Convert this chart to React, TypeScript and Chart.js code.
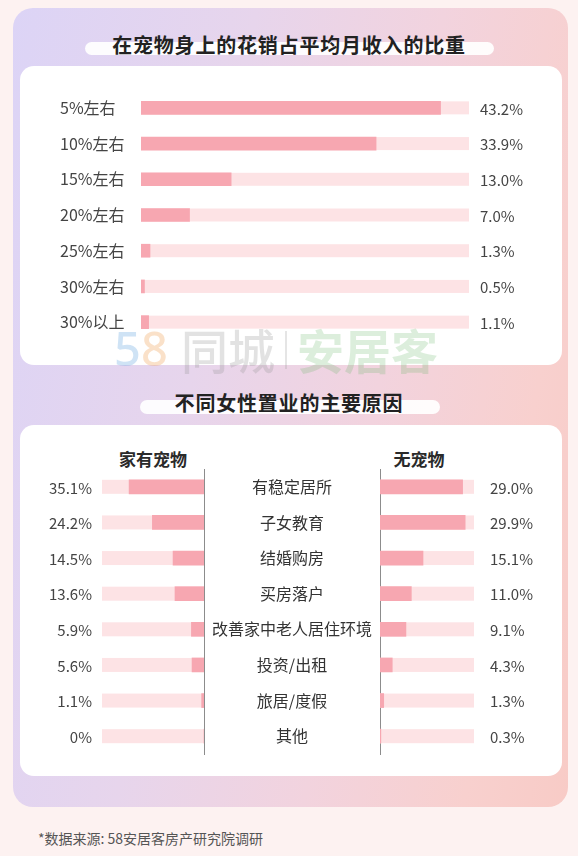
import React, { useEffect, useRef } from 'react';
import { Chart, registerables } from 'chart.js';

Chart.register(...registerables);

// ---- Data ----
const spendCategories = ['5%左右', '10%左右', '15%左右', '20%左右', '25%左右', '30%左右', '30%以上'];
const spendValues = [43.2, 33.9, 13.0, 7.0, 1.3, 0.5, 1.1];
const spendLabels = ['43.2%', '33.9%', '13.0%', '7.0%', '1.3%', '0.5%', '1.1%'];
const spendMax = 47.3;

const reasonCategories = ['有稳定居所', '子女教育', '结婚购房', '买房落户', '改善家中老人居住环境', '投资/出租', '旅居/度假', '其他'];
const withPetValues = [35.1, 24.2, 14.5, 13.6, 5.9, 5.6, 1.1, 0];
const withPetLabels = ['35.1%', '24.2%', '14.5%', '13.6%', '5.9%', '5.6%', '1.1%', '0%'];
const withPetMax = 47.8;
const noPetValues = [29.0, 29.9, 15.1, 11.0, 9.1, 4.3, 1.3, 0.3];
const noPetLabels = ['29.0%', '29.9%', '15.1%', '11.0%', '9.1%', '4.3%', '1.3%', '0.3%'];
const noPetMax = 33;

const FONT = "'Noto Sans CJK SC', 'Noto Sans', sans-serif";
const BAR = '#f7a7b1';
const TRACK = '#fde3e5';

function trackPlugin(color: string) {
  return {
    id: 'trackBg',
    beforeDatasetsDraw(chart: any) {
      const { ctx, chartArea } = chart;
      const meta = chart.getDatasetMeta(0);
      ctx.save();
      ctx.fillStyle = color;
      meta.data.forEach((el: any) => {
        const h = el.height;
        ctx.fillRect(chartArea.left, el.y - h / 2, chartArea.right - chartArea.left, h);
      });
      ctx.restore();
    },
  };
}

function valuePlugin(labels: string[], side: 'left' | 'right', gap: number, size: number, color: string) {
  return {
    id: 'valueLabels',
    afterDatasetsDraw(chart: any) {
      const { ctx, chartArea } = chart;
      const meta = chart.getDatasetMeta(0);
      ctx.save();
      ctx.font = `${size}px ${FONT}`;
      ctx.fillStyle = color;
      ctx.textBaseline = 'middle';
      ctx.textAlign = side === 'right' ? 'left' : 'right';
      const x = side === 'right' ? chartArea.right + gap : chartArea.left - gap;
      meta.data.forEach((el: any, i: number) => {
        ctx.fillText(labels[i], x, el.y + 1);
      });
      ctx.restore();
    },
  };
}

const baseOptions = {
  animation: false as const,
  responsive: false,
  maintainAspectRatio: false,
  events: [] as any[],
  indexAxis: 'y' as const,
  plugins: { legend: { display: false }, tooltip: { enabled: false }, title: { display: false } },
};

function SpendChart() {
  const ref = useRef<HTMLCanvasElement>(null);
  useEffect(() => {
    const chart = new Chart(ref.current!, {
      type: 'bar',
      data: {
        labels: spendCategories,
        datasets: [{ data: spendValues, backgroundColor: BAR, barThickness: 13, borderWidth: 0 }],
      },
      options: {
        ...baseOptions,
        layout: { padding: { left: 40, right: 93, top: 24, bottom: 25 } },
        scales: {
          x: { display: false, min: 0, max: spendMax },
          y: {
            position: 'left',
            grid: { display: false, drawTicks: false },
            border: { display: false },
            ticks: { crossAlign: 'far', padding: 0, color: '#444', font: { family: FONT, size: 16 } },
            afterFit: (s: any) => { s.width = 81; },
          },
        },
      } as any,
      plugins: [trackPlugin(TRACK), valuePlugin(spendLabels, 'right', 11, 15, '#444')],
    });
    return () => chart.destroy();
  }, []);
  return <canvas ref={ref} width={542} height={299} style={{ position: 'absolute', left: 20, top: 66, width: 542, height: 299 }} />;
}

function WithPetChart() {
  const ref = useRef<HTMLCanvasElement>(null);
  useEffect(() => {
    const chart = new Chart(ref.current!, {
      type: 'bar',
      data: {
        labels: reasonCategories,
        datasets: [{ data: withPetValues, backgroundColor: BAR, barThickness: 14, borderWidth: 0 }],
      },
      options: {
        ...baseOptions,
        layout: { padding: { left: 82, right: 2, top: 44, bottom: 22 } },
        scales: {
          x: { display: false, reverse: true, min: 0, max: withPetMax },
          y: {
            position: 'right',
            grid: { display: false, drawTicks: false },
            border: { display: true, color: '#8c8c8c', width: 1 },
            ticks: { display: false },
            afterFit: (s: any) => { s.width = 0; },
          },
        },
      } as any,
      plugins: [trackPlugin(TRACK), valuePlugin(withPetLabels, 'left', 10, 15, '#444')],
    });
    return () => chart.destroy();
  }, []);
  return <canvas ref={ref} width={186} height={351} style={{ position: 'absolute', left: 20, top: 425, width: 186, height: 351 }} />;
}

function NoPetChart() {
  const ref = useRef<HTMLCanvasElement>(null);
  useEffect(() => {
    const chart = new Chart(ref.current!, {
      type: 'bar',
      data: {
        labels: reasonCategories,
        datasets: [{ data: noPetValues, backgroundColor: BAR, barThickness: 14, borderWidth: 0 }],
      },
      options: {
        ...baseOptions,
        layout: { padding: { left: 0, right: 88, top: 44, bottom: 22 } },
        scales: {
          x: { display: false, min: 0, max: noPetMax },
          y: {
            position: 'left',
            grid: { display: false, drawTicks: false },
            border: { display: true, color: '#8c8c8c', width: 1 },
            ticks: { crossAlign: 'center', padding: 8, color: '#333', font: { family: FONT, size: 16 } },
            afterFit: (s: any) => { s.width = 170; },
          },
        },
      } as any,
      plugins: [trackPlugin(TRACK), valuePlugin(noPetLabels, 'right', 16, 15, '#444')],
    });
    return () => chart.destroy();
  }, []);
  return <canvas ref={ref} width={352} height={351} style={{ position: 'absolute', left: 210, top: 425, width: 352, height: 351 }} />;
}

const abs = (s: React.CSSProperties): React.CSSProperties => ({ position: 'absolute', ...s });

export default function App() {
  const titleStyle: React.CSSProperties = {
    position: 'absolute', left: 0, width: 578, textAlign: 'center', fontFamily: FONT,
    fontWeight: 700, fontSize: 20, letterSpacing: 0.8, color: '#222', lineHeight: '28px',
  };
  const headStyle: React.CSSProperties = {
    position: 'absolute', width: 120, textAlign: 'center', fontFamily: FONT,
    fontWeight: 700, fontSize: 17, color: '#2a2a2a', lineHeight: '24px', top: 447,
  };
  const wm: React.CSSProperties = { position: 'absolute', top: 325, fontFamily: FONT, fontSize: 47, lineHeight: '47px', fontWeight: 500, pointerEvents: 'none' };
  return (
    <div style={{ position: 'fixed', left: 0, top: 0, width: 578, height: 856, background: '#fdf2f1', overflow: 'hidden' }}>
      <div style={abs({ left: 13, top: 8, width: 555, height: 799, borderRadius: 20,
        background: 'linear-gradient(100deg, #dcd4f6 0%, #e7d5ec 35%, #f2d3de 62%, #f8d0ce 85%, #f8cbc6 100%)' })} />
      {/* title 1 */}
      <div style={abs({ left: 85, top: 42, width: 409, height: 13, borderRadius: 7, background: 'rgba(255,255,255,0.92)' })} />
      <div style={{ ...titleStyle, top: 31 }}>在宠物身上的花销占平均月收入的比重</div>
      {/* card 1 */}
      <div style={abs({ left: 20, top: 66, width: 542, height: 299, borderRadius: 14, background: '#ffffff' })} />
      <SpendChart />
      {/* title 2 */}
      <div style={abs({ left: 140, top: 400, width: 300, height: 14, borderRadius: 7, background: 'rgba(255,255,255,0.92)' })} />
      <div style={{ ...titleStyle, top: 389 }}>不同女性置业的主要原因</div>
      {/* card 2 */}
      <div style={abs({ left: 20, top: 425, width: 542, height: 351, borderRadius: 14, background: '#ffffff' })} />
      <div style={{ ...headStyle, left: 93 }}>家有宠物</div>
      <div style={{ ...headStyle, left: 359 }}>无宠物</div>
      <WithPetChart />
      <NoPetChart />
      {/* watermark */}
      <div style={{ ...wm, left: 114, fontFamily: "'Noto Sans', sans-serif" }}>
        <span style={{ color: 'rgba(110,170,225,0.33)' }}>5</span>
        <span style={{ color: 'rgba(240,165,90,0.33)' }}>8</span>
      </div>
      <div style={{ ...wm, left: 181, color: 'rgba(150,150,150,0.28)' }}>同城</div>
      <div style={abs({ left: 285, top: 331, width: 2, height: 38, background: 'rgba(150,150,150,0.25)' })} />
      <div style={{ ...wm, left: 297, color: 'rgba(110,185,110,0.24)', fontWeight: 700 }}>安居客</div>
      {/* footer */}
      <div style={abs({ left: 38, top: 828, fontFamily: FONT, fontSize: 14, lineHeight: '20px', color: '#555' })}>
        *数据来源: 58安居客房产研究院调研
      </div>
    </div>
  );
}
